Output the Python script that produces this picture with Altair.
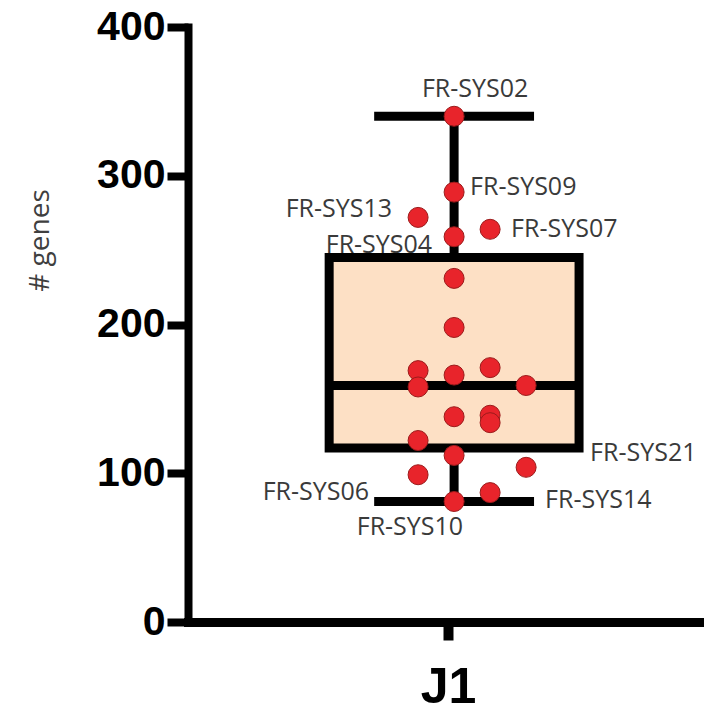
import altair as alt
import numpy as np
import pandas as pd

# ---- data ----
gene_counts = [340, 289, 272, 264, 259, 231, 198, 171, 169, 166, 159, 158,
               139, 138, 134, 122, 112, 104, 99, 87, 81]
# jitter column of each point (0 = centre of the J1 column)
jitter_col = [0, 0, -1, 1, 0, 0, 0, 1, -1, 0, 2, -1,
              1, 0, 1, -1, 0, 2, -1, 1, 0]

label_names = ["FR-SYS02", "FR-SYS09", "FR-SYS13", "FR-SYS07", "FR-SYS04",
               "FR-SYS21", "FR-SYS06", "FR-SYS14", "FR-SYS10"]
label_values = [340, 289, 272, 264, 259, 104, 99, 87, 81]
label_cols = [0, 0, -1, 1, 0, 2, -1, 1, 0]

group_name = "J1"

# ---- derived tables ----
pts = pd.DataFrame({"genes": gene_counts, "col": jitter_col})
q1, med, q3 = np.percentile(gene_counts, [25, 50, 75], method="weibull")
lo, hi = min(gene_counts), max(gene_counts)

BOX_HALF = 3.47
CAP_HALF = 2.22
stats = pd.DataFrame({"q1": [q1], "q3": [q3], "med": [med], "lo": [lo], "hi": [hi],
                      "bl": [-BOX_HALF], "br": [BOX_HALF],
                      "cl": [-CAP_HALF], "cr": [CAP_HALF], "c": [0]})
labels = pd.DataFrame({"name": label_names, "genes": label_values, "col": label_cols})

xscale = alt.Scale(domain=[-7.39, 6.94], nice=False, zero=False)
yscale = alt.Scale(domain=[0, 400], nice=False)

x_axis = alt.Axis(values=[-0.17], labelExpr="'" + group_name + "'", title=None,
                  domainWidth=9, domainColor="black", domainCap="square",
                  tickWidth=10, tickSize=18, tickColor="black",
                  labelFont="Liberation Sans", labelFontWeight="bold",
                  labelFontSize=50, labelColor="black", labelPadding=22,
                  grid=False)
y_axis = alt.Axis(values=[0, 100, 200, 300, 400], title="# genes",
                  domainWidth=8, domainColor="black", domainCap="square",
                  tickWidth=8, tickSize=21, tickColor="black",
                  labelFont="Liberation Sans", labelFontWeight="bold",
                  labelFontSize=41, labelColor="black", labelPadding=2,
                  titleFont="Open Sans", titleFontWeight="normal", titleFontSize=28,
                  titleColor="#3f3f3f", titleAngle=270, titleAlign="center",
                  titleBaseline="alphabetic", titleX=-140, titleY=213,
                  grid=False)

base_stats = alt.Chart(stats)

whisker = base_stats.mark_rule(color="black", strokeWidth=9).encode(
    x=alt.X("c:Q", scale=xscale, axis=x_axis),
    y=alt.Y("lo:Q", scale=yscale, axis=y_axis),
    y2="hi:Q",
)
caps_lo = base_stats.mark_rule(color="black", strokeWidth=9).encode(
    x=alt.X("cl:Q", scale=xscale), x2="cr:Q", y=alt.Y("lo:Q", scale=yscale))
caps_hi = base_stats.mark_rule(color="black", strokeWidth=9).encode(
    x=alt.X("cl:Q", scale=xscale), x2="cr:Q", y=alt.Y("hi:Q", scale=yscale))
box = base_stats.mark_rect(fill="#fde0c5", stroke="black", strokeWidth=9).encode(
    x=alt.X("bl:Q", scale=xscale), x2="br:Q",
    y=alt.Y("q1:Q", scale=yscale), y2="q3:Q")
median = base_stats.mark_rule(color="black", strokeWidth=9).encode(
    x=alt.X("bl:Q", scale=xscale), x2="br:Q", y=alt.Y("med:Q", scale=yscale))

points = alt.Chart(pts).mark_point(
    shape="circle", filled=True, size=400, fill="#e8242b", opacity=1,
    stroke="#9b1b1b", strokeWidth=1, strokeOpacity=1
).encode(x=alt.X("col:Q", scale=xscale), y=alt.Y("genes:Q", scale=yscale))

label_style = {
    "FR-SYS02": ("center", 21, -27),
    "FR-SYS09": ("left", 16, -5),
    "FR-SYS13": ("right", -26, -8),
    "FR-SYS07": ("left", 21, 0),
    "FR-SYS04": ("right", -22, 8),
    "FR-SYS21": ("left", 64, -14),
    "FR-SYS06": ("right", -49, 17),
    "FR-SYS14": ("left", 55, 7),
    "FR-SYS10": ("right", 9, 25),
}
text_layers = []
for nm, (al, dx, dy) in label_style.items():
    text_layers.append(
        alt.Chart(labels).transform_filter(alt.datum.name == nm).mark_text(
            align=al, baseline="middle", dx=dx, dy=dy, font="Open Sans",
            fontSize=25, color="#3a3a3a"
        ).encode(x=alt.X("col:Q", scale=xscale), y=alt.Y("genes:Q", scale=yscale),
                 text="name:N")
    )

chart = alt.layer(whisker, caps_lo, caps_hi, box, median, points, *text_layers).properties(
    width=516, height=595,
    padding={"left": 188, "top": 27, "right": 0, "bottom": 92},
    autosize="none",
    background="white",
).configure_view(stroke=None)

chart.save("out.html", embed_options={"renderer": "svg", "actions": False})
